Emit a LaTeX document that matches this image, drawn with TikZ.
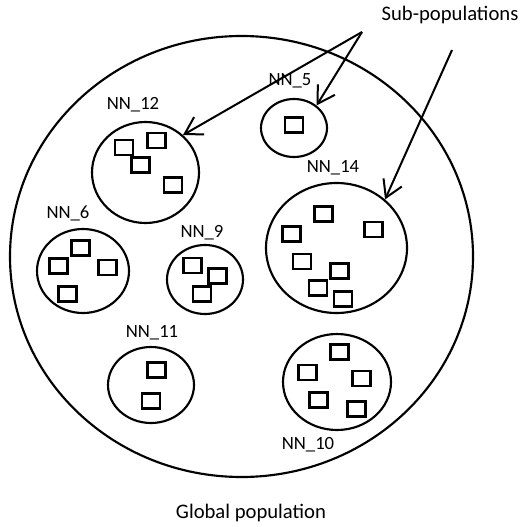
\documentclass[tikz,border=0pt]{standalone}
\usepackage{fontspec}
\setmainfont{Carlito}
\usetikzlibrary{shapes.geometric,arrows.meta}
\begin{document}
\begin{tikzpicture}[x=0.75pt,y=-0.75pt,
  pop/.style={draw,ellipse,line width=1.6pt,inner sep=0pt},
  ind/.style={draw,rectangle,line width=1.8pt,inner sep=0pt,minimum width=13.5pt,minimum height=11pt},
  lab/.style={font=\fontsize{14}{16}\selectfont,inner sep=0pt},
  big/.style={font=\fontsize{15.5}{18}\selectfont,inner sep=0pt},
  ptr/.style={line width=1.5pt,-{Straight Barb[length=12.5pt,width=15pt]}}]
\useasboundingbox (0,0) rectangle (523,527);
% global population
\node[pop,minimum width=463*0.75pt,minimum height=441*0.75pt] (glob) at (241.5,256.5) {};
% sub-populations
\node[pop,minimum width=107*0.75pt,minimum height=101*0.75pt] (nn12) at (145.5,172.5) {};
\node[pop,minimum width=66*0.75pt,minimum height=58*0.75pt] (nn5) at (294,128) {};
\node[pop,minimum width=141*0.75pt,minimum height=130*0.75pt] (nn14) at (336.5,248) {};
\node[pop,minimum width=92*0.75pt,minimum height=84*0.75pt] (nn6) at (83,271) {};
\node[pop,minimum width=76*0.75pt,minimum height=69*0.75pt] (nn9) at (205,279.5) {};
\node[pop,minimum width=86*0.75pt,minimum height=76*0.75pt] (nn11) at (151,385) {};
\node[pop,minimum width=108*0.75pt,minimum height=96*0.75pt] (nn10) at (337,382) {};
% individuals
\node[ind] (a1) at (124,147.5) {};
\node[ind] (a2) at (156.5,140.5) {};
\node[ind] (a3) at (140.5,165) {};
\node[ind] (a4) at (173,185) {};
\node[ind] (b1) at (294,125) {};
\node[ind] (c1) at (323.5,214) {};
\node[ind] (c2) at (291.5,234) {};
\node[ind] (c3) at (373.5,229.5) {};
\node[ind] (c4) at (302,261.5) {};
\node[ind] (c5) at (339.5,271) {};
\node[ind] (c6) at (318,288) {};
\node[ind] (c7) at (343,299) {};
\node[ind] (d1) at (80.5,248) {};
\node[ind] (d2) at (58.5,266) {};
\node[ind] (d3) at (107.5,267.5) {};
\node[ind] (d4) at (67.5,294) {};
\node[ind] (e1) at (192.5,265.5) {};
\node[ind] (e2) at (217.5,276) {};
\node[ind] (e3) at (202,294) {};
\node[ind] (f1) at (156.5,370) {};
\node[ind] (f2) at (151,401) {};
\node[ind] (g1) at (339.5,352) {};
\node[ind] (g2) at (307.5,372.5) {};
\node[ind] (g3) at (361.5,378.5) {};
\node[ind] (g4) at (318.5,400) {};
\node[ind] (g5) at (356.5,409) {};
% labels
\node[lab] (l12) at (133,105) {NN\_12};
\node[lab] (l5) at (290,81) {NN\_5};
\node[lab] (l14) at (333,168) {NN\_14};
\node[lab] (l6) at (68,213) {NN\_6};
\node[lab] (l9) at (202,233) {NN\_9};
\node[lab] (l11) at (152,333) {NN\_11};
\node[lab] (l10) at (308,445) {NN\_10};
\node[big] (sub) at (450,15) {Sub-populations};
\node[big] (gl) at (251,513) {Global population};
% pointers
\coordinate (src1) at (362,32);
\coordinate (src2) at (452,50);
\draw[ptr] (src1) -- (nn12.45);
\draw[ptr] (src1) -- (nn5.45);
\draw[ptr] (src2) -- (nn14.45);
\end{tikzpicture}
\end{document}
